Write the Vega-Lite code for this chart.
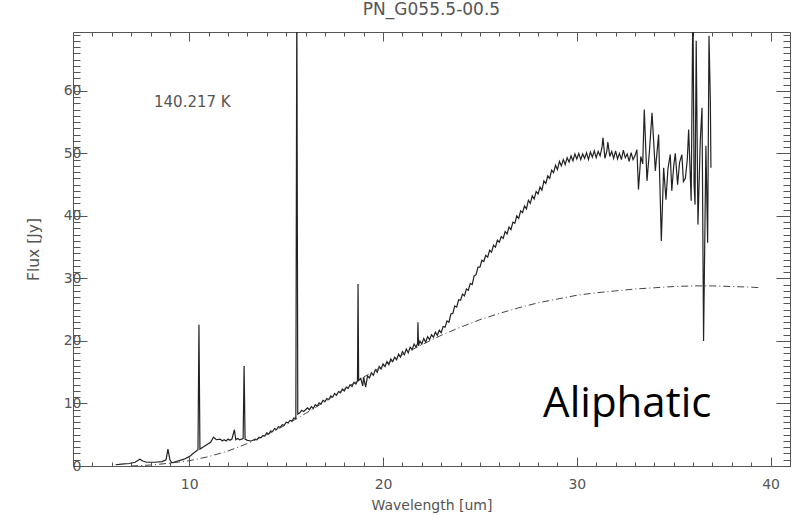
{
  "$schema": "https://vega.github.io/schema/vega-lite/v6.json",
  "width": 717,
  "height": 434,
  "autosize": {"type": "none"},
  "padding": {"left": 73, "top": 32, "right": 2, "bottom": 50},
  "background": "white",
  "title": {"text": "PN_G055.5-00.5", "font": "DejaVu Sans", "fontSize": 17, "fontWeight": "normal", "color": "#555", "offset": 9, "anchor": "middle"},
  "config": {
    "view": {"stroke": null},
    "axis": {"labelFont": "DejaVu Sans", "titleFont": "DejaVu Sans", "labelColor": "#555", "titleColor": "#555", "domainColor": "#555", "tickColor": "#555", "grid": false, "labelOverlap": false, "labelFlush": false, "titleFontWeight": "normal", "labelFontSize": 14, "titleFontSize": 14}
  },
  "datasets": {
    "spectrum": [
      {"wl": 6.2, "flux": 0.2}, {"wl": 6.5, "flux": 0.3}, {"wl": 6.9, "flux": 0.4}, {"wl": 7.2, "flux": 0.6}, {"wl": 7.45, "flux": 1.1}, {"wl": 7.6, "flux": 0.8}, {"wl": 7.8, "flux": 0.6}, {"wl": 8.2, "flux": 0.6}, {"wl": 8.6, "flux": 0.7}, {"wl": 8.8, "flux": 1.0}, {"wl": 8.9, "flux": 2.7}, {"wl": 9.0, "flux": 1.0}, {"wl": 9.1, "flux": 0.5}, {"wl": 9.4, "flux": 0.8}, {"wl": 9.7, "flux": 1.05}, {"wl": 10.0, "flux": 1.5}, {"wl": 10.2, "flux": 2.0}, {"wl": 10.45, "flux": 2.6}, {"wl": 10.5, "flux": 22.6}, {"wl": 10.55, "flux": 2.7}, {"wl": 10.7, "flux": 3.0}, {"wl": 10.9, "flux": 3.4}, {"wl": 11.1, "flux": 3.8}, {"wl": 11.25, "flux": 4.6}, {"wl": 11.4, "flux": 4.2}, {"wl": 11.6, "flux": 4.3}, {"wl": 11.7, "flux": 4.0}, {"wl": 11.8, "flux": 4.2}, {"wl": 11.9, "flux": 4.0}, {"wl": 12.0, "flux": 4.3}, {"wl": 12.1, "flux": 4.1}, {"wl": 12.2, "flux": 4.3}, {"wl": 12.33, "flux": 5.8}, {"wl": 12.4, "flux": 4.2}, {"wl": 12.5, "flux": 4.4}, {"wl": 12.6, "flux": 4.2}, {"wl": 12.78, "flux": 4.4}, {"wl": 12.83, "flux": 16.0}, {"wl": 12.88, "flux": 4.3}, {"wl": 13.0, "flux": 4.1}, {"wl": 13.2, "flux": 4.0}, {"wl": 13.4, "flux": 4.3}, {"wl": 13.5, "flux": 4.2}, {"wl": 13.6, "flux": 4.6}, {"wl": 13.7, "flux": 4.5}, {"wl": 13.8, "flux": 4.9}, {"wl": 13.9, "flux": 4.8}, {"wl": 14.0, "flux": 5.3}, {"wl": 14.1, "flux": 5.1}, {"wl": 14.2, "flux": 5.6}, {"wl": 14.3, "flux": 5.5}, {"wl": 14.4, "flux": 6.0}, {"wl": 14.5, "flux": 5.8}, {"wl": 14.6, "flux": 6.3}, {"wl": 14.7, "flux": 6.2}, {"wl": 14.8, "flux": 6.6}, {"wl": 14.9, "flux": 6.5}, {"wl": 15.0, "flux": 7.0}, {"wl": 15.1, "flux": 6.9}, {"wl": 15.2, "flux": 7.3}, {"wl": 15.3, "flux": 7.2}, {"wl": 15.4, "flux": 7.7}, {"wl": 15.5, "flux": 7.6}, {"wl": 15.55, "flux": 75}, {"wl": 15.6, "flux": 8.3}, {"wl": 15.7, "flux": 8.5}, {"wl": 15.8, "flux": 8.9}, {"wl": 15.9, "flux": 8.7},
      {"wl": 16.0, "flux": 9.0}, {"wl": 16.1, "flux": 9.3}, {"wl": 16.2, "flux": 9.0}, {"wl": 16.3, "flux": 9.5}, {"wl": 16.4, "flux": 9.2}, {"wl": 16.5, "flux": 9.8}, {"wl": 16.6, "flux": 9.6}, {"wl": 16.7, "flux": 10.1}, {"wl": 16.8, "flux": 9.9}, {"wl": 16.9, "flux": 10.5}, {"wl": 17.0, "flux": 10.3}, {"wl": 17.1, "flux": 10.8}, {"wl": 17.2, "flux": 10.6}, {"wl": 17.3, "flux": 11.2}, {"wl": 17.4, "flux": 11.0}, {"wl": 17.5, "flux": 11.6}, {"wl": 17.6, "flux": 11.3}, {"wl": 17.7, "flux": 11.9}, {"wl": 17.8, "flux": 11.7}, {"wl": 17.9, "flux": 12.3}, {"wl": 18.0, "flux": 12.0}, {"wl": 18.1, "flux": 12.6}, {"wl": 18.2, "flux": 12.4}, {"wl": 18.3, "flux": 13.0}, {"wl": 18.4, "flux": 12.7}, {"wl": 18.5, "flux": 13.4}, {"wl": 18.6, "flux": 13.1}, {"wl": 18.68, "flux": 13.6}, {"wl": 18.71, "flux": 29.1}, {"wl": 18.74, "flux": 13.7}, {"wl": 18.85, "flux": 14.0}, {"wl": 18.95, "flux": 12.8}, {"wl": 19.0, "flux": 14.2}, {"wl": 19.1, "flux": 12.6}, {"wl": 19.2, "flux": 14.4}, {"wl": 19.3, "flux": 14.1}, {"wl": 19.4, "flux": 14.9}, {"wl": 19.5, "flux": 14.5}, {"wl": 19.6, "flux": 15.4}, {"wl": 19.7, "flux": 15.0}, {"wl": 19.8, "flux": 15.9}, {"wl": 19.9, "flux": 15.5}, {"wl": 20.0, "flux": 16.3},
      {"wl": 20.1, "flux": 15.9}, {"wl": 20.2, "flux": 16.7}, {"wl": 20.3, "flux": 16.2}, {"wl": 20.4, "flux": 17.1}, {"wl": 20.5, "flux": 16.7}, {"wl": 20.6, "flux": 17.4}, {"wl": 20.7, "flux": 17.0}, {"wl": 20.8, "flux": 17.9}, {"wl": 20.9, "flux": 17.4}, {"wl": 21.0, "flux": 18.3}, {"wl": 21.1, "flux": 17.8}, {"wl": 21.2, "flux": 18.7}, {"wl": 21.3, "flux": 18.1}, {"wl": 21.4, "flux": 19.0}, {"wl": 21.5, "flux": 18.6}, {"wl": 21.6, "flux": 19.5}, {"wl": 21.7, "flux": 19.0}, {"wl": 21.78, "flux": 19.6}, {"wl": 21.8, "flux": 23.0}, {"wl": 21.83, "flux": 19.2}, {"wl": 21.9, "flux": 20.0}, {"wl": 22.0, "flux": 19.5}, {"wl": 22.1, "flux": 20.4}, {"wl": 22.2, "flux": 19.8}, {"wl": 22.3, "flux": 20.7}, {"wl": 22.4, "flux": 20.2}, {"wl": 22.5, "flux": 21.0}, {"wl": 22.6, "flux": 20.6}, {"wl": 22.7, "flux": 21.4}, {"wl": 22.8, "flux": 20.9}, {"wl": 22.9, "flux": 21.7}, {"wl": 23.0, "flux": 21.3}, {"wl": 23.1, "flux": 22.3}, {"wl": 23.2, "flux": 22.2}, {"wl": 23.3, "flux": 23.2}, {"wl": 23.4, "flux": 23.0}, {"wl": 23.5, "flux": 24.3}, {"wl": 23.6, "flux": 24.4}, {"wl": 23.7, "flux": 25.6}, {"wl": 23.8, "flux": 25.4}, {"wl": 23.9, "flux": 26.6}, {"wl": 24.0, "flux": 26.5}, {"wl": 24.1, "flux": 27.5}, {"wl": 24.2, "flux": 27.2}, {"wl": 24.3, "flux": 28.3}, {"wl": 24.4, "flux": 28.1}, {"wl": 24.5, "flux": 29.2}, {"wl": 24.6, "flux": 29.0}, {"wl": 24.7, "flux": 30.4}, {"wl": 24.8, "flux": 30.6}, {"wl": 24.9, "flux": 31.8}, {"wl": 25.0, "flux": 31.8},
      {"wl": 25.1, "flux": 32.9}, {"wl": 25.2, "flux": 32.7}, {"wl": 25.3, "flux": 33.7}, {"wl": 25.4, "flux": 33.4}, {"wl": 25.5, "flux": 34.5}, {"wl": 25.6, "flux": 34.2}, {"wl": 25.7, "flux": 35.3}, {"wl": 25.8, "flux": 35.0}, {"wl": 25.9, "flux": 36.1}, {"wl": 26.0, "flux": 35.8}, {"wl": 26.1, "flux": 36.7}, {"wl": 26.2, "flux": 36.4}, {"wl": 26.3, "flux": 37.5}, {"wl": 26.4, "flux": 37.1}, {"wl": 26.5, "flux": 38.2}, {"wl": 26.6, "flux": 37.8}, {"wl": 26.7, "flux": 39.0}, {"wl": 26.8, "flux": 38.8}, {"wl": 26.9, "flux": 40.0}, {"wl": 27.0, "flux": 39.6}, {"wl": 27.1, "flux": 40.8}, {"wl": 27.2, "flux": 40.5}, {"wl": 27.3, "flux": 41.6}, {"wl": 27.4, "flux": 41.1}, {"wl": 27.5, "flux": 42.5}, {"wl": 27.6, "flux": 42.0}, {"wl": 27.7, "flux": 43.2}, {"wl": 27.8, "flux": 42.7}, {"wl": 27.9, "flux": 43.9}, {"wl": 28.0, "flux": 43.5}, {"wl": 28.1, "flux": 44.6}, {"wl": 28.2, "flux": 44.1}, {"wl": 28.3, "flux": 45.6}, {"wl": 28.4, "flux": 45.2}, {"wl": 28.5, "flux": 46.4}, {"wl": 28.6, "flux": 46.0}, {"wl": 28.7, "flux": 47.3}, {"wl": 28.8, "flux": 46.9}, {"wl": 28.9, "flux": 48.1}, {"wl": 29.0, "flux": 47.4}, {"wl": 29.1, "flux": 48.7}, {"wl": 29.2, "flux": 48.0}, {"wl": 29.3, "flux": 49.0}, {"wl": 29.4, "flux": 48.2}, {"wl": 29.5, "flux": 49.3}, {"wl": 29.6, "flux": 48.6}, {"wl": 29.7, "flux": 49.6}, {"wl": 29.8, "flux": 48.8}, {"wl": 29.9, "flux": 49.9}, {"wl": 30.0, "flux": 49.1},
      {"wl": 30.1, "flux": 50.0}, {"wl": 30.2, "flux": 49.0}, {"wl": 30.3, "flux": 49.9}, {"wl": 30.4, "flux": 49.2}, {"wl": 30.5, "flux": 50.1}, {"wl": 30.6, "flux": 49.0}, {"wl": 30.7, "flux": 50.2}, {"wl": 30.8, "flux": 49.4}, {"wl": 30.9, "flux": 50.4}, {"wl": 31.0, "flux": 49.3}, {"wl": 31.1, "flux": 50.3}, {"wl": 31.2, "flux": 49.6}, {"wl": 31.3, "flux": 51.0}, {"wl": 31.35, "flux": 52.5}, {"wl": 31.45, "flux": 49.2}, {"wl": 31.55, "flux": 50.4}, {"wl": 31.6, "flux": 51.8}, {"wl": 31.7, "flux": 49.5}, {"wl": 31.8, "flux": 50.3}, {"wl": 31.9, "flux": 49.2}, {"wl": 32.0, "flux": 50.4}, {"wl": 32.1, "flux": 49.1}, {"wl": 32.2, "flux": 50.0}, {"wl": 32.3, "flux": 49.0}, {"wl": 32.4, "flux": 50.5}, {"wl": 32.5, "flux": 49.3}, {"wl": 32.6, "flux": 49.9}, {"wl": 32.7, "flux": 48.7}, {"wl": 32.8, "flux": 50.1}, {"wl": 32.9, "flux": 49.0}, {"wl": 33.0, "flux": 49.6}, {"wl": 33.1, "flux": 50.6}, {"wl": 33.18, "flux": 44.2}, {"wl": 33.3, "flux": 49.5}, {"wl": 33.4, "flux": 48.3}, {"wl": 33.48, "flux": 57.0}, {"wl": 33.62, "flux": 45.6}, {"wl": 33.75, "flux": 50.5}, {"wl": 33.88, "flux": 56.5}, {"wl": 34.05, "flux": 47.2}, {"wl": 34.22, "flux": 53.0}, {"wl": 34.36, "flux": 36.0}, {"wl": 34.48, "flux": 47.7}, {"wl": 34.6, "flux": 42.6}, {"wl": 34.7, "flux": 47.5}, {"wl": 34.82, "flux": 49.8}, {"wl": 34.9, "flux": 44.0}, {"wl": 35.0, "flux": 48.0}, {"wl": 35.08, "flux": 50.0}, {"wl": 35.2, "flux": 45.0}, {"wl": 35.3, "flux": 48.5}, {"wl": 35.42, "flux": 49.8}, {"wl": 35.5, "flux": 45.5}, {"wl": 35.6, "flux": 46.0}, {"wl": 35.7, "flux": 49.0}, {"wl": 35.77, "flux": 53.8}, {"wl": 35.9, "flux": 42.4}, {"wl": 35.99, "flux": 75}, {"wl": 36.05, "flux": 45}, {"wl": 36.1, "flux": 41.8}, {"wl": 36.16, "flux": 68.0}, {"wl": 36.25, "flux": 38.6}, {"wl": 36.37, "flux": 52.0}, {"wl": 36.46, "flux": 57.3}, {"wl": 36.54, "flux": 20.0}, {"wl": 36.66, "flux": 51.2}, {"wl": 36.75, "flux": 35.7}, {"wl": 36.82, "flux": 68.8}, {"wl": 36.89, "flux": 58.4}, {"wl": 36.92, "flux": 47.7}
    ],
    "model": [
      {"wl": 7.0, "flux": 0.0}, {"wl": 8.0, "flux": 0.15}, {"wl": 9.0, "flux": 0.45}, {"wl": 10.0, "flux": 0.85}, {"wl": 11.0, "flux": 1.5}, {"wl": 12.0, "flux": 2.4}, {"wl": 13.0, "flux": 3.6}, {"wl": 14.0, "flux": 5.0}, {"wl": 15.0, "flux": 6.6}, {"wl": 16.0, "flux": 8.4}, {"wl": 17.0, "flux": 10.3}, {"wl": 18.0, "flux": 12.3}, {"wl": 19.0, "flux": 14.2}, {"wl": 20.0, "flux": 16.0}, {"wl": 21.0, "flux": 17.8}, {"wl": 22.0, "flux": 19.4}, {"wl": 23.0, "flux": 20.9}, {"wl": 24.0, "flux": 22.2}, {"wl": 25.0, "flux": 23.4}, {"wl": 26.0, "flux": 24.4}, {"wl": 27.0, "flux": 25.3}, {"wl": 28.0, "flux": 26.1}, {"wl": 29.0, "flux": 26.7}, {"wl": 30.0, "flux": 27.3}, {"wl": 31.0, "flux": 27.7}, {"wl": 32.0, "flux": 28.0}, {"wl": 33.0, "flux": 28.3}, {"wl": 34.0, "flux": 28.5}, {"wl": 35.0, "flux": 28.7}, {"wl": 36.0, "flux": 28.8}, {"wl": 37.0, "flux": 28.8}, {"wl": 38.0, "flux": 28.7}, {"wl": 39.0, "flux": 28.6}, {"wl": 39.5, "flux": 28.5}
    ],
    "notes": [
      {"wl": 8.18, "flux": 57.4, "label": "140.217 K", "kind": "temp"},
      {"wl": 28.26, "flux": 7.84, "label": "Aliphatic", "kind": "big"}
    ]
  },
  "resolve": {"scale": {"x": "shared", "y": "shared"}, "axis": {"x": "independent", "y": "independent"}},
  "layer": [
    {
      "data": {"name": "spectrum"},
      "mark": {"type": "line", "color": "#222", "strokeWidth": 1.2, "clip": true},
      "encoding": {
        "x": {"field": "wl", "type": "quantitative", "scale": {"domain": [4, 41], "nice": false, "zero": false},
          "axis": {"orient": "bottom", "title": "Wavelength [um]", "values": [5,6,7,8,9,10,11,12,13,14,15,16,17,18,19,20,21,22,23,24,25,26,27,28,29,30,31,32,33,34,35,36,37,38,39,40],
            "tickSize": {"condition": {"test": "datum.value % 10 === 0", "value": -9}, "value": -4},
            "labelExpr": "datum.value % 10 === 0 ? datum.label : ''", "labelPadding": 20, "titlePadding": 2}},
        "y": {"field": "flux", "type": "quantitative", "scale": {"domain": [0, 69.4], "nice": false},
          "axis": {"orient": "left", "title": "Flux [Jy]", "titleFontSize": 15.5, "values": [0,1,2,3,4,5,6,7,8,9,10,11,12,13,14,15,16,17,18,19,20,21,22,23,24,25,26,27,28,29,30,31,32,33,34,35,36,37,38,39,40,41,42,43,44,45,46,47,48,49,50,51,52,53,54,55,56,57,58,59,60,61,62,63,64,65,66,67,68,69],
            "tickSize": {"condition": {"test": "datum.value % 10 === 0", "value": -14}, "value": -7},
            "labelExpr": "datum.value % 10 === 0 ? datum.label : ''", "labelPadding": 6, "titlePadding": 22}}
      }
    },
    {
      "data": {"name": "model"},
      "mark": {"type": "line", "color": "#444", "strokeWidth": 1, "strokeDash": [7, 3, 1, 3], "clip": true},
      "encoding": {
        "x": {"field": "wl", "type": "quantitative",
          "axis": {"orient": "top", "title": null, "labels": false, "values": [5,6,7,8,9,10,11,12,13,14,15,16,17,18,19,20,21,22,23,24,25,26,27,28,29,30,31,32,33,34,35,36,37,38,39,40],
            "tickSize": {"condition": {"test": "datum.value % 10 === 0", "value": -9}, "value": -4}}},
        "y": {"field": "flux", "type": "quantitative",
          "axis": {"orient": "right", "title": null, "labels": false, "values": [0,1,2,3,4,5,6,7,8,9,10,11,12,13,14,15,16,17,18,19,20,21,22,23,24,25,26,27,28,29,30,31,32,33,34,35,36,37,38,39,40,41,42,43,44,45,46,47,48,49,50,51,52,53,54,55,56,57,58,59,60,61,62,63,64,65,66,67,68,69],
            "tickSize": {"condition": {"test": "datum.value % 10 === 0", "value": -14}, "value": -7}}}
      }
    },
    {
      "data": {"name": "notes"},
      "transform": [{"filter": "datum.kind === 'temp'"}],
      "mark": {"type": "text", "font": "DejaVu Sans", "fontSize": 15, "color": "#555", "align": "left", "baseline": "alphabetic"},
      "encoding": {
        "x": {"field": "wl", "type": "quantitative", "axis": null},
        "y": {"field": "flux", "type": "quantitative", "axis": null},
        "text": {"field": "label"}
      }
    },
    {
      "data": {"name": "notes"},
      "transform": [{"filter": "datum.kind === 'big'"}],
      "mark": {"type": "text", "font": "Open Sans", "fontSize": 42, "color": "#000", "align": "left", "baseline": "alphabetic"},
      "encoding": {
        "x": {"field": "wl", "type": "quantitative", "axis": null},
        "y": {"field": "flux", "type": "quantitative", "axis": null},
        "text": {"field": "label"}
      }
    }
  ]
}
